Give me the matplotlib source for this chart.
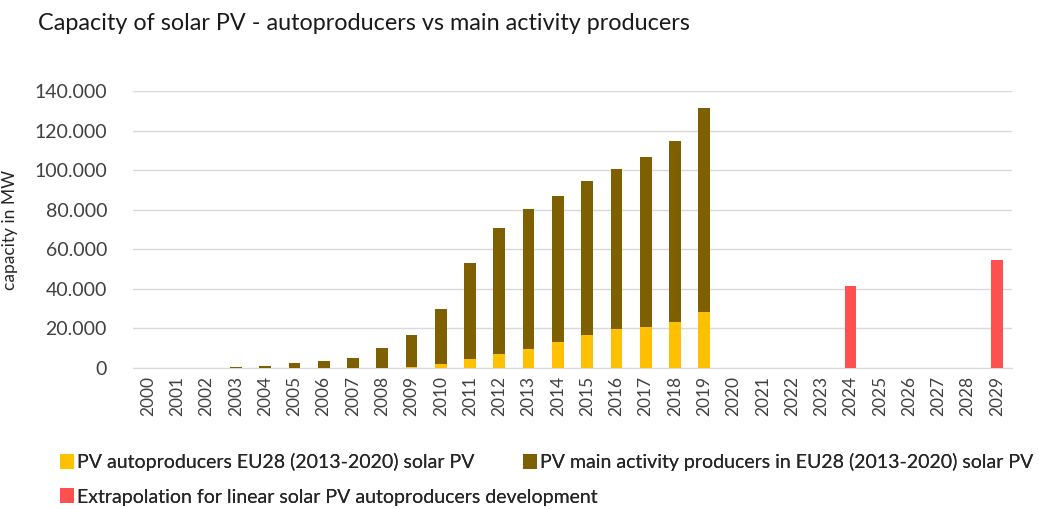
import matplotlib
matplotlib.use("Agg")
import matplotlib.pyplot as plt
import numpy as np

years = [str(y) for y in range(2000, 2030)]
autoproducers = [0, 0, 0, 0, 0, 0, 0, 0, 0, 0.3, 1.8, 4.5, 7.0, 9.8, 13.0, 16.8, 19.6, 20.8, 23.2, 28.3] + [0]*10
totals = [0, 0, 0, 0.6, 1.2, 2.5, 3.4, 5.0, 10.3, 16.8, 29.8, 53.0, 70.8, 80.3, 86.8, 94.7, 100.8, 106.4, 114.8, 131.2] + [0]*10
extrapolation = [0]*24 + [41.5, 0, 0, 0, 0, 54.8]

auto = np.array(autoproducers) * 1000
main = (np.array(totals) - np.array(autoproducers)) * 1000
main[main < 0] = 0
extra = np.array(extrapolation) * 1000

plt.rcParams['font.family'] = ['Lato', 'DejaVu Sans']

fig = plt.figure(figsize=(10.39, 5.09), dpi=100)
ax = fig.add_axes([133.4/1039, 1-368/509, (1011.6-133.4)/1039, 277/509])

x = np.arange(len(years))
w = 0.4
b1 = ax.bar(x, auto, w, color='#FFC000', zorder=3)
b2 = ax.bar(x, main, w, bottom=auto, color='#7F6000', zorder=3)
b3 = ax.bar(x, extra, w, color='#FF5050', zorder=3)

ax.set_xlim(-0.5, len(years) - 0.5)
ax.set_ylim(0, 140000)
ax.set_yticks(np.arange(0, 140001, 20000))
ax.set_yticklabels(['0' if v == 0 else f"{v:,}".replace(',', '.') for v in range(0, 140001, 20000)],
                   fontsize=14, color='#404040')
ax.set_xticks(x)
ax.set_xticklabels(years, rotation=90, fontsize=12.5, color='#404040')
ax.tick_params(axis='y', length=0, pad=19)
ax.tick_params(axis='x', length=0, pad=6)
ax.yaxis.grid(True, color='#d9d9d9', linewidth=1, zorder=0)
for s in ['top', 'right', 'left']:
    ax.spines[s].set_visible(False)
ax.spines['bottom'].set_color('#d9d9d9')
ax.spines['bottom'].set_zorder(1)
ax.set_ylabel('capacity in MW', fontsize=12.5, color='#262626')
ax.yaxis.set_label_coords((18 - 133.4) / 878.2, 0.5)

fig.text(38/1039, 1-24/509, 'Capacity of solar PV - autoproducers vs main activity producers',
         fontsize=16.8, color='#1a1a1a', va='center', ha='left')

common = dict(frameon=False, fontsize=14, handlelength=0.7, handleheight=0.8,
              handletextpad=0.15, borderpad=0, borderaxespad=0, labelcolor='#262626',
              loc='center left')
legend_items = [
    (b1, 'PV autoproducers EU28 (2013-2020) solar PV', 60, 462),
    (b2, 'PV main activity producers in EU28 (2013-2020) solar PV', 523, 462),
    (b3, 'Extrapolation for linear solar PV autoproducers development', 60, 497),
]
for h, lab, px, py in legend_items:
    lg = fig.legend([h], [lab], bbox_to_anchor=(px/1039, 1-py/509), **common)
    fig.add_artist(lg)

fig.savefig('out.png', dpi=100)
